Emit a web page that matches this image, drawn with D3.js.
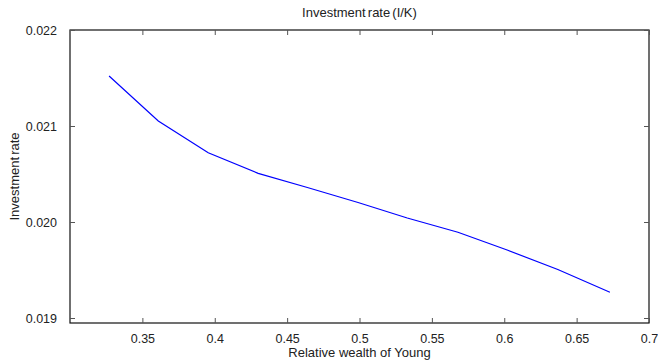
<!DOCTYPE html>
<html>
<head>
<meta charset="utf-8">
<script src="https://cdn.jsdelivr.net/npm/d3@7"></script>
<style>
  body { margin: 0; background: #fff; }
  svg text { font-family: "Liberation Sans", Arial, sans-serif; font-size: 13px; fill: #222; }
  .tick line { stroke: #555; }
</style>
</head>
<body>
<svg width="658" height="361"></svg>
<script>
// relative wealth of young (x) and investment rate I/K (y)
const wealth = [0.327, 0.361, 0.3955, 0.430, 0.464, 0.499, 0.533, 0.568, 0.602, 0.637, 0.673];
const invRate = [0.021521, 0.021052, 0.020722, 0.020507, 0.020359, 0.020203, 0.020042, 0.019893, 0.019708, 0.019505, 0.019268];
const xTicks = [0.35, 0.4, 0.45, 0.5, 0.55, 0.6, 0.65, 0.7];
const yTicks = [0.019, 0.020, 0.021, 0.022];

const svg = d3.select('svg');
const mLeft = 70, mRight = 649, mTop = 30, mBottom = 323;

const x = d3.scaleLinear().domain([0.3, 0.7]).range([mLeft, mRight]);
const y = d3.scaleLinear().domain([0.018948, 0.022]).range([mBottom, mTop]);

// box
svg.append('rect')
    .attr('x', mLeft).attr('y', mTop)
    .attr('width', mRight - mLeft).attr('height', mBottom - mTop)
    .attr('fill', 'none').attr('stroke', '#111').attr('stroke-width', 1.2);

const tickLen = 5;

// bottom axis (labels) + top ticks
const xb = svg.append('g')
    .attr('transform', `translate(0, ${mBottom})`)
    .call(d3.axisBottom(x).tickValues(xTicks).tickSizeInner(-tickLen).tickSizeOuter(0)
        .tickPadding(11).tickFormat(d => d3.format('')(+d.toFixed(2))));
xb.select('.domain').remove();
xb.selectAll('text').attr('dy', '0.71em');

const xt = svg.append('g')
    .attr('transform', `translate(0, ${mTop})`)
    .call(d3.axisTop(x).tickValues(xTicks).tickSizeInner(-tickLen).tickSizeOuter(0).tickFormat(''));
xt.select('.domain').remove();

// left axis (labels) + right ticks
const yl = svg.append('g')
    .attr('transform', `translate(${mLeft}, 0)`)
    .call(d3.axisLeft(y).tickValues(yTicks).tickSizeInner(-tickLen).tickSizeOuter(0)
        .tickPadding(13).tickFormat(d3.format('.3f')));
yl.select('.domain').remove();

const yr = svg.append('g')
    .attr('transform', `translate(${mRight}, 0)`)
    .call(d3.axisRight(y).tickValues(yTicks).tickSizeInner(-tickLen).tickSizeOuter(0).tickFormat(''));
yr.select('.domain').remove();

svg.selectAll('.tick text').style('font-size', '12.5px').attr('fill', '#222');

// the line
const line = d3.line()
    .x((d, i) => x(wealth[i]))
    .y(d => y(d));

svg.append('path')
    .datum(invRate)
    .attr('d', line)
    .attr('fill', 'none')
    .attr('stroke', '#0000ff')
    .attr('stroke-width', 1.2);

// labels
svg.append('text')
    .attr('x', (mLeft + mRight) / 2)
    .attr('y', 17)
    .attr('text-anchor', 'middle')
    .style('word-spacing', '-1.5px')
    .text('Investment rate (I/K)');

svg.append('text')
    .attr('x', (mLeft + mRight) / 2)
    .attr('y', 357)
    .attr('text-anchor', 'middle')
    .text('Relative wealth of Young');

svg.append('text')
    .attr('transform', `translate(19, ${(mTop + mBottom) / 2}) rotate(-90)`)
    .attr('text-anchor', 'middle')
    .style('word-spacing', '-1.5px')
    .text('Investment rate');
</script>
</body>
</html>
